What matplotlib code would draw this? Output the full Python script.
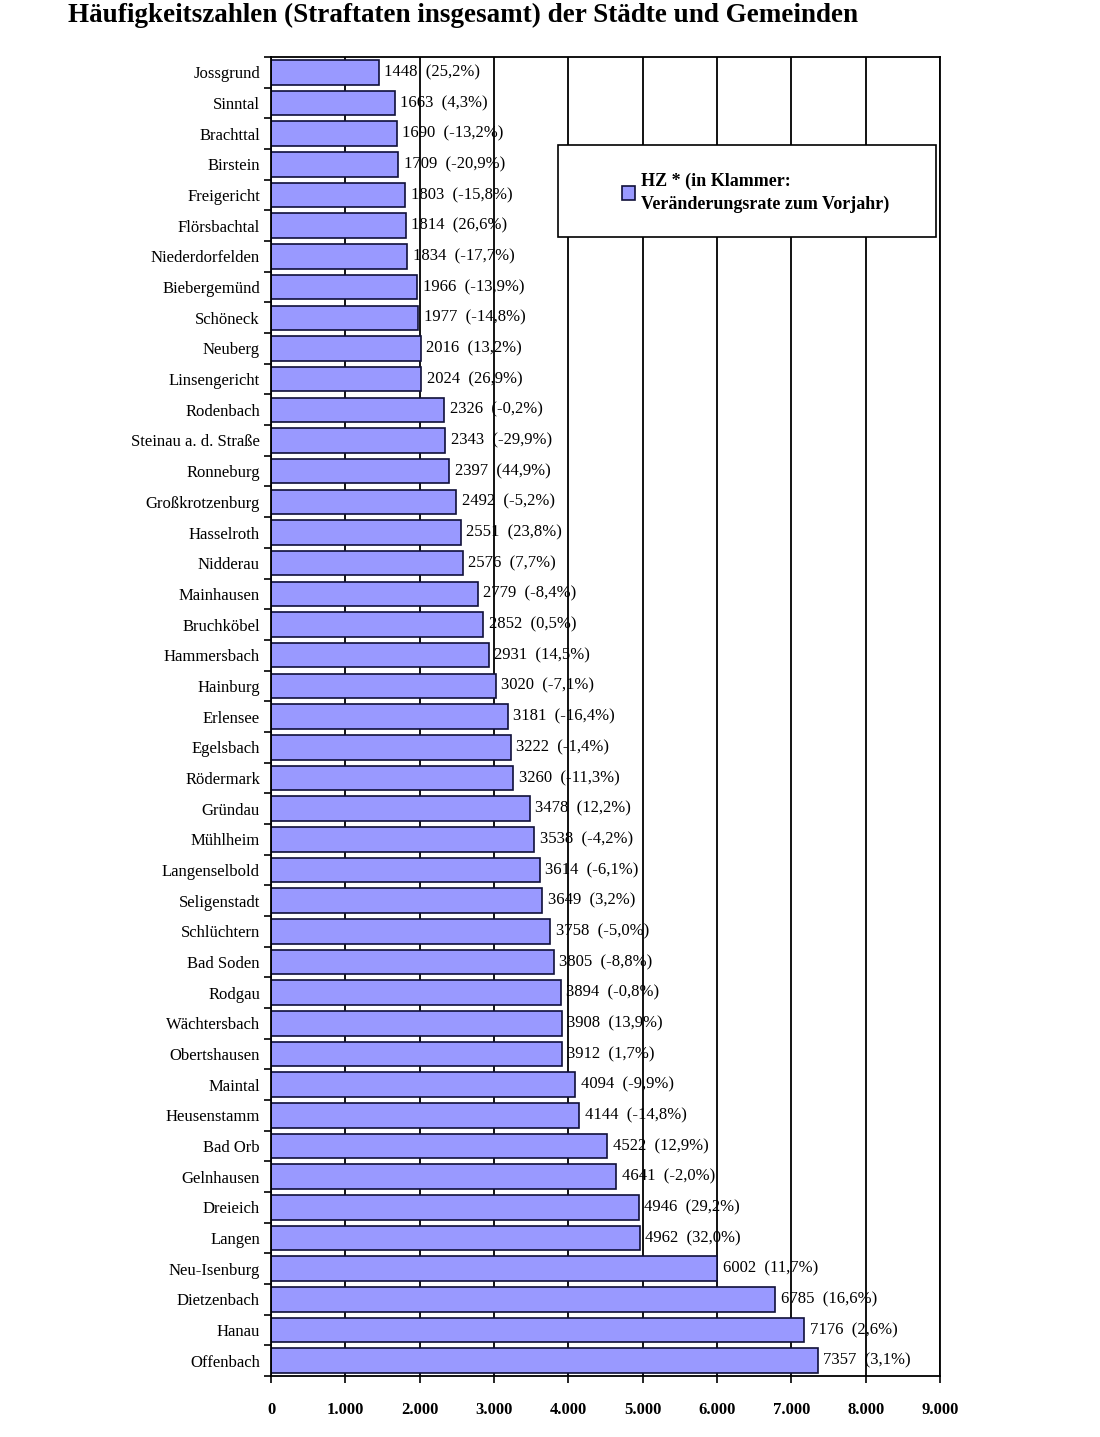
import numpy as np
import matplotlib
matplotlib.use("Agg")
import matplotlib.pyplot as plt
from matplotlib.patches import Rectangle
from matplotlib.ticker import FuncFormatter

# Häufigkeitszahlen je Stadt/Gemeinde und Veränderung zum Vorjahr (%)
towns = ["Jossgrund", "Sinntal", "Brachttal", "Birstein", "Freigericht",
         "Flörsbachtal", "Niederdorfelden", "Biebergemünd", "Schöneck",
         "Neuberg", "Linsengericht", "Rodenbach", "Steinau a. d. Straße",
         "Ronneburg", "Großkrotzenburg", "Hasselroth", "Nidderau",
         "Mainhausen", "Bruchköbel", "Hammersbach", "Hainburg", "Erlensee",
         "Egelsbach", "Rödermark", "Gründau", "Mühlheim", "Langenselbold",
         "Seligenstadt", "Schlüchtern", "Bad Soden", "Rodgau", "Wächtersbach",
         "Obertshausen", "Maintal", "Heusenstamm", "Bad Orb", "Gelnhausen",
         "Dreieich", "Langen", "Neu-Isenburg", "Dietzenbach", "Hanau",
         "Offenbach"]
hz = [1448, 1663, 1690, 1709, 1803, 1814, 1834, 1966, 1977, 2016, 2024,
      2326, 2343, 2397, 2492, 2551, 2576, 2779, 2852, 2931, 3020, 3181,
      3222, 3260, 3478, 3538, 3614, 3649, 3758, 3805, 3894, 3908, 3912,
      4094, 4144, 4522, 4641, 4946, 4962, 6002, 6785, 7176, 7357]
change = [25.2, 4.3, -13.2, -20.9, -15.8, 26.6, -17.7, -13.9, -14.8, 13.2,
          26.9, -0.2, -29.9, 44.9, -5.2, 23.8, 7.7, -8.4, 0.5, 14.5, -7.1,
          -16.4, -1.4, -11.3, 12.2, -4.2, -6.1, 3.2, -5.0, -8.8, -0.8, 13.9,
          1.7, -9.9, -14.8, 12.9, -2.0, 29.2, 32.0, 11.7, 16.6, 2.6, 3.1]
xticks = np.arange(0, 9001, 1000)

plt.rcParams["font.family"] = ["Liberation Serif", "DejaVu Serif"]

fig = plt.figure(figsize=(11, 14.37), dpi=100)
ax = fig.add_axes([0.2464, 0.0424, 0.6082, 0.9179])

y = np.arange(len(towns))
bars = ax.barh(y, hz, height=0.8, color="#9999ff", edgecolor="#10103a",
               linewidth=1.2, label="HZ * (in Klammer:\nVeränderungsrate zum Vorjahr)")
labels = [f"{v}  ({p:.1f}%)".replace(".", ",") for v, p in zip(hz, change)]
ax.bar_label(bars, labels=labels, padding=4, fontsize=12)

ax.set_ylim(len(towns) - 0.5, -0.5)
ax.set_yticks(y)
ax.set_yticklabels(towns, fontsize=12)
ax.set_yticks(np.arange(len(towns) + 1) - 0.5, minor=True)
ax.tick_params(axis="y", which="major", length=0, pad=8)
ax.tick_params(axis="y", which="minor", length=5, width=1.2, direction="out")

ax.set_xlim(0, 9000)
ax.set_xticks(xticks)
ax.xaxis.set_major_formatter(FuncFormatter(lambda v, _: f"{int(v):,}".replace(",", ".")))
ax.tick_params(axis="x", length=5, width=1.2, pad=14, labelsize=12)
for t in ax.get_xticklabels():
    t.set_fontweight("bold")

ax.xaxis.grid(True, color="black", lw=1.3)
ax.set_axisbelow(True)
for s in ax.spines.values():
    s.set_linewidth(1.3)
    s.set_color("black")

# legend box
ax.add_patch(Rectangle((0.429, 0.8635), 0.565, 0.0695, transform=ax.transAxes,
                       facecolor="white", edgecolor="black", lw=1.2, zorder=5))
leg = ax.legend(loc="upper left", bbox_to_anchor=(0.50, 0.925), frameon=False,
                handlelength=0.75, handleheight=0.75, handletextpad=0.3,
                prop={"weight": "bold", "size": 13})
leg.get_texts()[0].set_linespacing(1.5)
leg.set_zorder(6)

fig.text(0.062, 0.998, "Häufigkeitszahlen (Straftaten insgesamt) der Städte und Gemeinden",
         fontsize=19.5, fontweight="bold", va="top", ha="left")

fig.savefig("out.png", dpi=100, facecolor="white")
